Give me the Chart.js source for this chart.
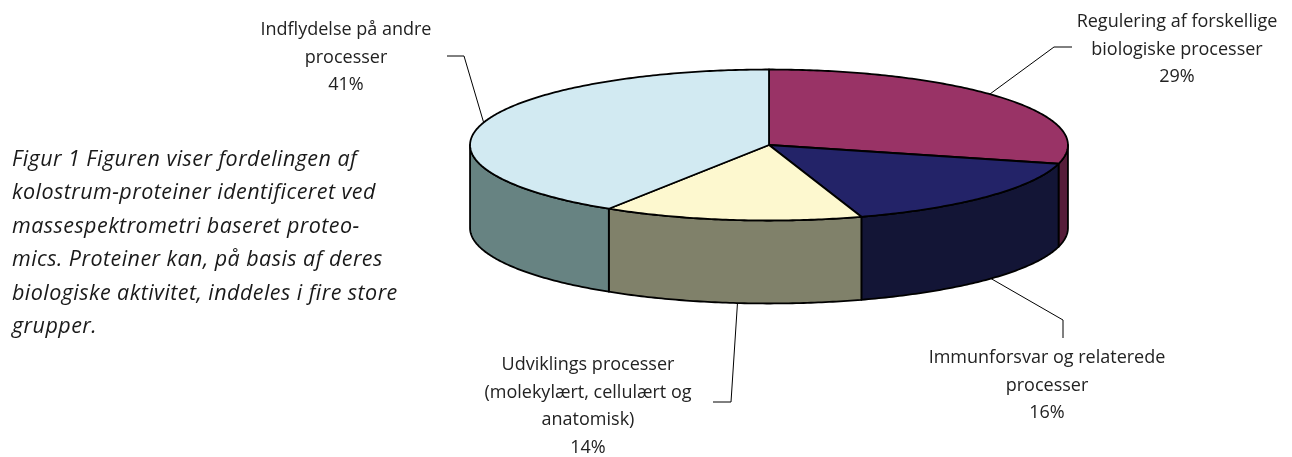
<!DOCTYPE html>
<html>
<head>
<meta charset="utf-8">
<script src="https://cdn.jsdelivr.net/npm/chart.js@4.4.1/dist/chart.umd.min.js"></script>
<style>
  html, body { margin: 0; padding: 0; background: #fff; }
  #wrap { position: relative; width: 1292px; height: 457px; overflow: hidden; }
  #c { position: absolute; left: 0; top: 0; }
  #caption {
    position: absolute; left: 12px; top: 141px;
    font-family: "Open Sans", "Noto Sans", sans-serif; font-style: italic;
    font-size: 21.5px; letter-spacing: 0.45px; line-height: 33.4px;
    color: #1a1a1a; white-space: nowrap;
  }
</style>
</head>
<body>
<div id="wrap">
  <canvas id="c" width="1292" height="457"></canvas>
  <div id="caption">Figur 1 Figuren viser fordelingen af<br>kolostrum-proteiner identificeret ved<br>massespektrometri baseret proteo-<br>mics. Proteiner kan, på basis af deres<br>biologiske aktivitet, inddeles i fire store<br>grupper.</div>
</div>
<script>
// data, clockwise from 12 o'clock
const categories = [
  ['Regulering af forskellige', 'biologiske processer'],
  ['Immunforsvar og relaterede', 'processer'],
  ['Udviklings processer', '(molekylært, cellulært og', 'anatomisk)'],
  ['Indflydelse på andre', 'processer']
];
const percents = [29, 16, 14, 41];

const topColors = ['#993366', '#232368', '#fdf8cf', '#d2eaf2'];
const sideColors = ['#561d3a', '#131536', '#80816a', '#678382'];

// where the data labels sit and how their leader lines run
const labelLayout = [
  { at: [1177, 22], shift: -0.08, bottom: false, path: [[1054, 47], [1072, 47]] },
  { at: [1047, 358], shift: -0.02, bottom: true, path: [[1063, 320], [1063, 338]] },
  { at: [588, 365], shift: -0.02, bottom: true, path: [[731, 402], [713, 402]] },
  { at: [346, 30], shift: 0.02, bottom: false, path: [[464, 56], [447, 56]] }
];

const STRETCH = 2.076;  // horizontal radius / chart radius
const TILT = 0.2525;    // vertical / horizontal radius of the top face
const DEPTH = 83;       // height of the pie wall in px

function rim(arc, a, drop) {
  const rx = arc.outerRadius * STRETCH;
  return [arc.x + rx * Math.cos(a), arc.y + rx * TILT * Math.sin(a) + (drop || 0)];
}

function traceRim(ctx, arc, a0, a1, drop, first) {
  const n = Math.max(2, Math.ceil(Math.abs(a1 - a0) * 80));
  for (let i = 0; i <= n; i++) {
    const p = rim(arc, a0 + (a1 - a0) * i / n, drop);
    if (i === 0 && first) ctx.moveTo(p[0], p[1]); else ctx.lineTo(p[0], p[1]);
  }
}

const pie3d = {
  id: 'pie3d',
  beforeDatasetsDraw(chart) {
    const ctx = chart.ctx;
    const arcs = chart.getDatasetMeta(0).data;
    ctx.save();
    ctx.lineJoin = 'round';
    ctx.strokeStyle = '#000';
    ctx.lineWidth = 1.8;
    // front wall, only the part facing the viewer (0..PI)
    arcs.forEach((arc, i) => {
      const a0 = Math.max(arc.startAngle, 0);
      const a1 = Math.min(arc.endAngle, Math.PI);
      if (a1 <= a0) return;
      ctx.beginPath();
      traceRim(ctx, arc, a0, a1, 0, true);
      traceRim(ctx, arc, a1, a0, DEPTH, false);
      ctx.closePath();
      ctx.fillStyle = sideColors[i];
      ctx.fill();
      ctx.stroke();
    });
    // top face
    arcs.forEach((arc, i) => {
      ctx.beginPath();
      ctx.moveTo(arc.x, arc.y);
      traceRim(ctx, arc, arc.startAngle, arc.endAngle, 0, false);
      ctx.closePath();
      ctx.fillStyle = topColors[i];
      ctx.fill();
      ctx.stroke();
    });
    ctx.restore();
    return false;
  },
  afterDraw(chart) {
    const ctx = chart.ctx;
    const arcs = chart.getDatasetMeta(0).data;
    ctx.save();
    ctx.strokeStyle = '#000';
    ctx.lineWidth = 1;
    ctx.fillStyle = '#222';
    ctx.font = '18px "Open Sans", "Noto Sans", sans-serif';
    ctx.textAlign = 'center';
    ctx.textBaseline = 'middle';
    arcs.forEach((arc, i) => {
      const lay = labelLayout[i];
      const mid = (arc.startAngle + arc.endAngle) / 2 + lay.shift;
      const p = rim(arc, mid, lay.bottom ? DEPTH : 0);
      ctx.beginPath();
      ctx.moveTo(p[0], p[1]);
      lay.path.forEach(q => ctx.lineTo(q[0], q[1]));
      ctx.stroke();
      const lines = categories[i].concat([percents[i] + '%']);
      lines.forEach((t, k) => ctx.fillText(t, lay.at[0], lay.at[1] + k * 27.5));
    });
    ctx.restore();
  }
};

new Chart(document.getElementById('c'), {
  type: 'pie',
  data: {
    labels: categories.map(l => l.join(' ')),
    datasets: [{ data: percents, backgroundColor: topColors, borderColor: '#000' }]
  },
  options: {
    responsive: false,
    animation: false,
    layout: { padding: { left: 624, right: 378, top: 0, bottom: 167 } },
    plugins: { legend: { display: false }, tooltip: { enabled: false } }
  },
  plugins: [pie3d]
});
</script>
</body>
</html>
